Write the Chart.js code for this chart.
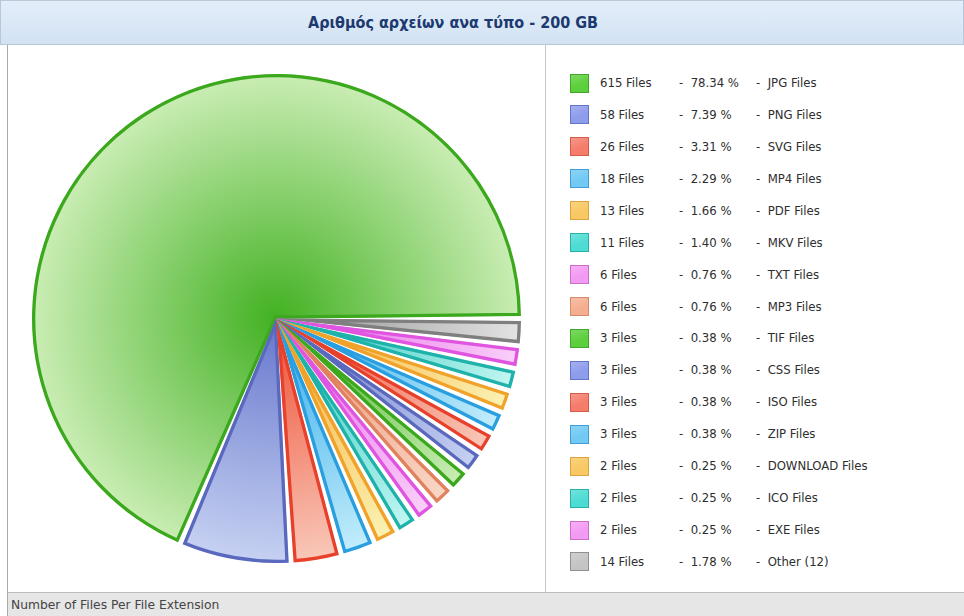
<!DOCTYPE html>
<html>
<head>
<meta charset="utf-8">
<script src="https://cdn.jsdelivr.net/npm/chart.js@4.4.0/dist/chart.umd.min.js"></script>
<style>
  html, body { margin:0; padding:0; background:#fff; width:964px; height:616px; overflow:hidden;
    font-family:"DejaVu Sans Condensed","DejaVu Sans",sans-serif; }
  #title { position:absolute; left:0; top:0; width:962px; height:43px; border:1px solid #b8c8da;
    background:linear-gradient(#e3eef9,#d2e2f3); }
  #title span { position:absolute; left:0; width:904px; top:0; line-height:44px; text-align:center;
    font-weight:bold; font-size:16px; color:#1c3a70; }
  #leftpanel { position:absolute; left:7px; top:45px; width:537px; height:547px;
    border-left:1px solid #a9a9a9; border-right:1px solid #c6c6c6; }
  #chartbox { position:absolute; left:8px; top:45px; width:537px; height:547px; }
  #legend { position:absolute; left:546px; top:67px; width:418px; }
  .row { position:absolute; left:0; height:32px; width:418px; font-size:13px; color:#2e2e2e; line-height:32px; }
  .sw { position:absolute; left:24px; top:6.5px; width:19px; height:19px; box-sizing:border-box; border:1px solid #888; }
  .c1 { position:absolute; left:54px; white-space:nowrap; }
  .c2 { position:absolute; left:133px; white-space:nowrap; }
  .c3 { position:absolute; left:210px; white-space:nowrap; }
  #footer { position:absolute; left:7px; top:592px; width:957px; height:24px; background:#e6e6e6;
    border-top:1px solid #bdbdbd; border-left:1px solid #a9a9a9; }
  #footer span { position:absolute; left:3px; top:0; line-height:24px; font-size:12.3px; color:#444;
    font-family:"DejaVu Sans",sans-serif; }
</style>
</head>
<body>
<div id="title"><span>Αριθμός αρχείων ανα τύπο - 200 GB</span></div>
<div id="leftpanel"></div>
<div id="chartbox"><canvas id="c"></canvas></div>
<div id="legend"></div>
<div id="footer"><span>Number of Files Per File Extension</span></div>
<script>
// ---- data ----
const fileTypes = ["JPG Files","PNG Files","SVG Files","MP4 Files","PDF Files","MKV Files","TXT Files","MP3 Files",
  "TIF Files","CSS Files","ISO Files","ZIP Files","DOWNLOAD Files","ICO Files","EXE Files","Other (12)"];
const fileCounts = [615, 58, 26, 18, 13, 11, 6, 6, 3, 3, 3, 3, 2, 2, 2, 14];

// ---- styles ----
const sliceInner  = ["#42b122","#6576cc","#ee4d33","#30a9e9","#f4aa32","#22c2ba","#e865e8","#e98c6a",
                     "#42b122","#6576cc","#ee4d33","#30a9e9","#f4aa32","#22c2ba","#e865e8","#8f8f8f"];
const sliceOuter  = ["#caedb4","#c6d1f2","#f9c8b9","#c3edfb","#fbf2b3","#c2f6f2","#f9cff9","#fad7c7",
                     "#caedb4","#c6d1f2","#f9c8b9","#c3edfb","#fbf2b3","#c2f6f2","#f9cff9","#e3e3e3"];
const sliceBorder = ["#3ba81d","#5a69bd","#e8412b","#2a9fe0","#f0a22a","#1fb2aa","#e055e0","#e0825e",
                     "#3ba81d","#5a69bd","#e8412b","#2a9fe0","#f0a22a","#1fb2aa","#e055e0","#7f7f7f"];
const swatchFill  = ["#5ccf3c","#8d9ceb","#f47c6a","#71c9f4","#f8c862","#4ddcd3","#f39af3","#f5ae90",
                     "#5ccf3c","#8d9ceb","#f47c6a","#71c9f4","#f8c862","#4ddcd3","#f39af3","#c4c4c4"];
const swatchEdge  = ["#44a52c","#6474c6","#d8584a","#409dd5","#daa43e","#2bb0a8","#c96fc9","#d48a6b",
                     "#44a52c","#6474c6","#d8584a","#409dd5","#daa43e","#2bb0a8","#c96fc9","#909090"];

// ---- legend (HTML, built from the arrays) ----
const total = fileCounts.reduce((a, b) => a + b, 0);
const legend = document.getElementById('legend');
fileTypes.forEach((name, i) => {
  const row = document.createElement('div');
  row.className = 'row';
  row.style.top = (i * 31.93) + 'px';
  const pct = (fileCounts[i] / total * 100).toFixed(2);
  row.innerHTML =
    '<div class="sw" style="background:linear-gradient(160deg,' + swatchFill[i] + 'cc,' + swatchFill[i] + ' 60%);border-color:' + swatchEdge[i] + '"></div>' +
    '<span class="c1">' + fileCounts[i] + ' Files</span>' +
    '<span class="c2">-&nbsp; ' + pct + ' %</span>' +
    '<span class="c3">-&nbsp; ' + name + '</span>';
  legend.appendChild(row);
});

// Lays the slices out counter-clockwise from 3 o'clock, with a minimum slice angle
// (deficit taken from the largest slice) and a small wedge gap, as the original chart does.
const sliceLayout = {
  id: 'sliceLayout',
  beforeDatasetsDraw(chart, args, opts) {
    const meta = chart.getDatasetMeta(0);
    const vals = chart.data.datasets[0].data;
    const sum = vals.reduce((a, b) => a + b, 0);
    const TAU = Math.PI * 2;
    const minA = opts.minShare * TAU;
    let ang = vals.map(v => v / sum * TAU);
    const big = ang.indexOf(Math.max(...ang));
    let deficit = 0;
    ang = ang.map((a, i) => { if (i !== big && a < minA) { deficit += minA - a; return minA; } return a; });
    ang[big] -= deficit;
    const gap = opts.gapDeg * Math.PI / 180;
    let cur = opts.startDeg * Math.PI / 180;
    meta.data.forEach((arc, i) => {
      const end = cur, start = cur - ang[i];
      arc.startAngle = start + gap / 2;
      arc.endAngle = end - gap / 2;
      arc.circumference = arc.endAngle - arc.startAngle;
      cur = start;
    });
  }
};

function radialFill(c) {
  const chart = c.chart, a = chart.chartArea, i = c.dataIndex;
  if (!a) return sliceInner[i];
  const cx = (a.left + a.right) / 2, cy = (a.top + a.bottom) / 2;
  const r = Math.min(a.right - a.left, a.bottom - a.top) / 2;
  const g = chart.ctx.createRadialGradient(cx, cy, 0, cx, cy, r);
  g.addColorStop(0, sliceInner[i]);
  g.addColorStop(1, sliceOuter[i]);
  return g;
}

new Chart(document.getElementById('c'), {
  type: 'pie',
  data: {
    labels: fileTypes,
    datasets: [{
      data: fileCounts,
      backgroundColor: radialFill,
      borderColor: sliceBorder,
      borderWidth: 3,
      borderAlign: 'inner',
      borderJoinStyle: 'miter',
      hoverOffset: 0,
      offset: 0
    }]
  },
  options: {
    responsive: true,
    maintainAspectRatio: false,
    animation: false,
    layout: { padding: 24 },
    events: [],
    plugins: {
      legend: { display: false },
      tooltip: { enabled: false },
      title: { display: false },
      sliceLayout: { minShare: 0.015, gapDeg: 1.3, startDeg: 0 }
    }
  },
  plugins: [sliceLayout]
});
</script>
</body>
</html>
